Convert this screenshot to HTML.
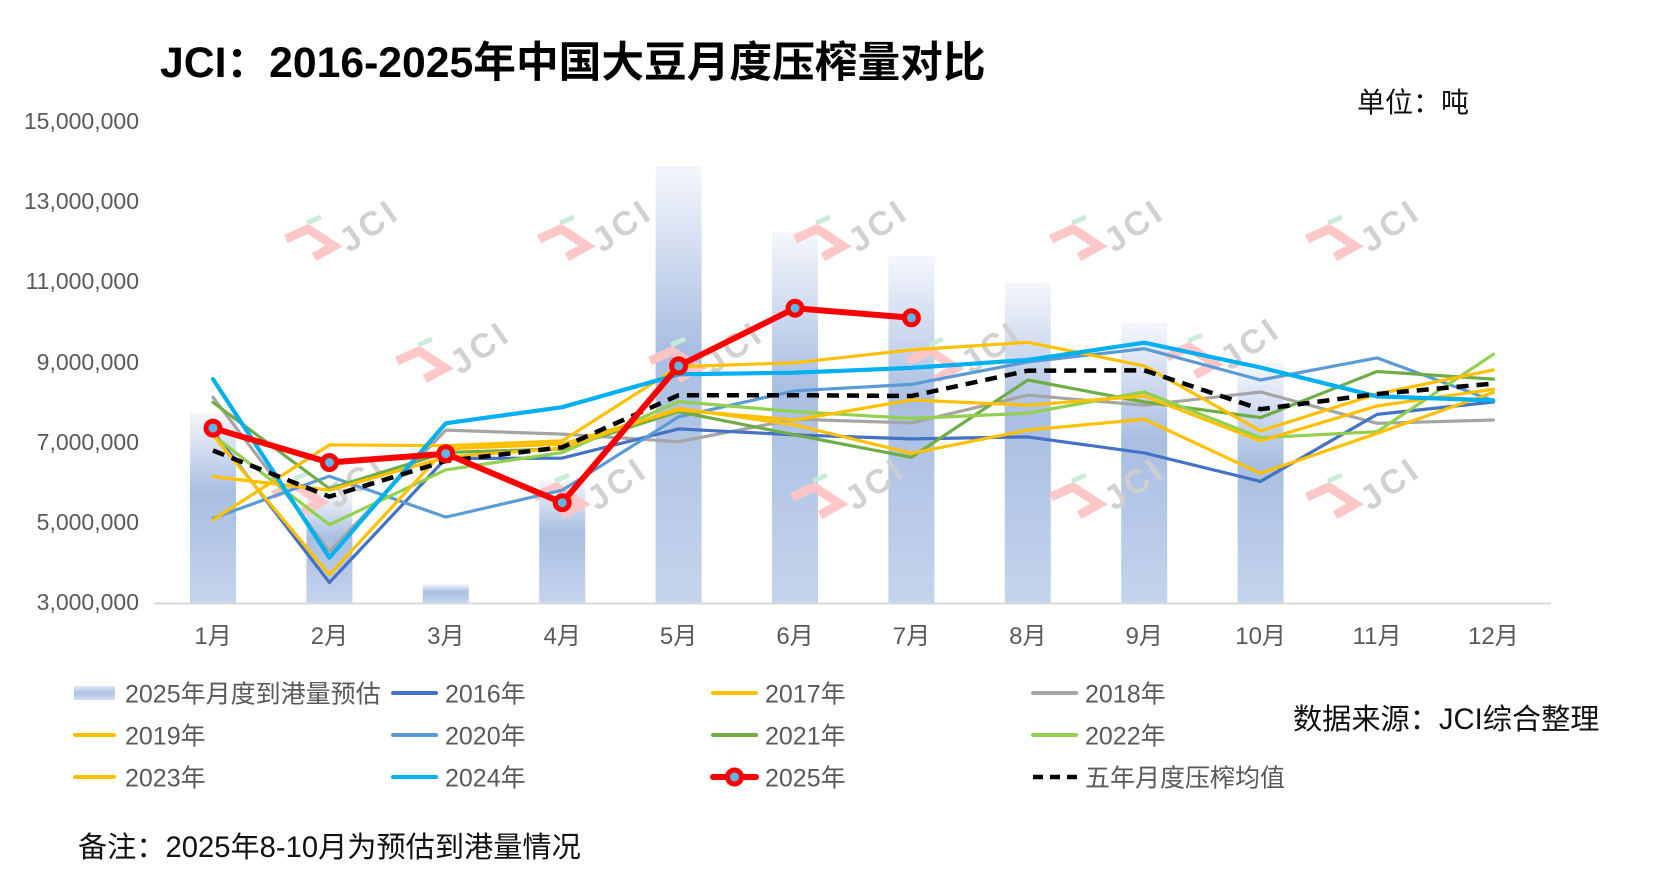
<!DOCTYPE html>
<html><head><meta charset="utf-8"><style>
html,body{margin:0;padding:0;background:#fff;}
svg{display:block;font-family:"Liberation Sans","Noto Sans CJK SC",sans-serif;}
</style></head><body>
<svg width="1654" height="894" viewBox="0 0 1654 894" xmlns="http://www.w3.org/2000/svg">
<defs>
<linearGradient id="bg" x1="0" y1="0" x2="0" y2="1">
<stop offset="0" stop-color="#f5f7fc"/>
<stop offset="0.42" stop-color="#a9bee2"/>
<stop offset="1" stop-color="#c5d4ed"/>
</linearGradient>
<linearGradient id="lg" x1="0" y1="0" x2="0" y2="1">
<stop offset="0" stop-color="#dfe7f5"/>
<stop offset="0.5" stop-color="#aec2e4"/>
<stop offset="1" stop-color="#d3def1"/>
</linearGradient>
</defs>
<rect width="1654" height="894" fill="#fff"/>

<!-- title -->
<text x="160" y="77" font-size="42.7" font-weight="bold" fill="#000">JCI：2016-2025年中国大豆月度压榨量对比</text>
<text x="1357" y="112" font-size="28" fill="#111">单位：吨</text>

<!-- y axis labels -->
<g font-size="23" fill="#595959" text-anchor="end">
<text x="139" y="129">15,000,000</text>
<text x="139" y="209">13,000,000</text>
<text x="139" y="289">11,000,000</text>
<text x="139" y="370">9,000,000</text>
<text x="139" y="450">7,000,000</text>
<text x="139" y="530">5,000,000</text>
<text x="139" y="610">3,000,000</text>
</g>

<!-- bars -->
<g fill="url(#bg)">
<rect x="190" y="413.2" width="46" height="189.8"/>
<rect x="306.4" y="492.2" width="46" height="110.8"/>
<rect x="422.8" y="584.1" width="46" height="18.9"/>
<rect x="539.2" y="480.6" width="46" height="122.4"/>
<rect x="655.6" y="165.8" width="46" height="437.2"/>
<rect x="772" y="232" width="46" height="371"/>
<rect x="888.4" y="256" width="46" height="347"/>
<rect x="1004.8" y="282.9" width="46" height="320.1"/>
<rect x="1121.2" y="322.6" width="46" height="280.4"/>
<rect x="1237.6" y="361.9" width="46" height="241.1"/>
</g>

<!-- axis line -->
<line x1="154" y1="603.5" x2="1551" y2="603.5" stroke="#d9d9d9" stroke-width="2"/>

<!-- watermarks -->
<g opacity="0.95">
<g transform="translate(343,227)"><path d="M-57,12 L-35,2 L-9,19 L-29,30" fill="none" stroke="#ffc4c4" stroke-width="9"/><line x1="-36" y1="-4" x2="-22" y2="-10" stroke="#c9ebd7" stroke-width="5"/><text transform="translate(26,-2) rotate(-35)" text-anchor="middle" font-size="34" font-weight="bold" fill="#cfcfcf" letter-spacing="4" y="12">JCI</text></g>
<g transform="translate(596,227)"><path d="M-57,12 L-35,2 L-9,19 L-29,30" fill="none" stroke="#ffc4c4" stroke-width="9"/><line x1="-36" y1="-4" x2="-22" y2="-10" stroke="#c9ebd7" stroke-width="5"/><text transform="translate(26,-2) rotate(-35)" text-anchor="middle" font-size="34" font-weight="bold" fill="#cfcfcf" letter-spacing="4" y="12">JCI</text></g>
<g transform="translate(852,227)"><path d="M-57,12 L-35,2 L-9,19 L-29,30" fill="none" stroke="#ffc4c4" stroke-width="9"/><line x1="-36" y1="-4" x2="-22" y2="-10" stroke="#c9ebd7" stroke-width="5"/><text transform="translate(26,-2) rotate(-35)" text-anchor="middle" font-size="34" font-weight="bold" fill="#cfcfcf" letter-spacing="4" y="12">JCI</text></g>
<g transform="translate(1108,227)"><path d="M-57,12 L-35,2 L-9,19 L-29,30" fill="none" stroke="#ffc4c4" stroke-width="9"/><line x1="-36" y1="-4" x2="-22" y2="-10" stroke="#c9ebd7" stroke-width="5"/><text transform="translate(26,-2) rotate(-35)" text-anchor="middle" font-size="34" font-weight="bold" fill="#cfcfcf" letter-spacing="4" y="12">JCI</text></g>
<g transform="translate(1364,227)"><path d="M-57,12 L-35,2 L-9,19 L-29,30" fill="none" stroke="#ffc4c4" stroke-width="9"/><line x1="-36" y1="-4" x2="-22" y2="-10" stroke="#c9ebd7" stroke-width="5"/><text transform="translate(26,-2) rotate(-35)" text-anchor="middle" font-size="34" font-weight="bold" fill="#cfcfcf" letter-spacing="4" y="12">JCI</text></g>

<g transform="translate(454,349)"><path d="M-57,12 L-35,2 L-9,19 L-29,30" fill="none" stroke="#ffc4c4" stroke-width="9"/><line x1="-36" y1="-4" x2="-22" y2="-10" stroke="#c9ebd7" stroke-width="5"/><text transform="translate(26,-2) rotate(-35)" text-anchor="middle" font-size="34" font-weight="bold" fill="#cfcfcf" letter-spacing="4" y="12">JCI</text></g>
<g transform="translate(707,349)"><path d="M-57,12 L-35,2 L-9,19 L-29,30" fill="none" stroke="#ffc4c4" stroke-width="9"/><line x1="-36" y1="-4" x2="-22" y2="-10" stroke="#c9ebd7" stroke-width="5"/><text transform="translate(26,-2) rotate(-35)" text-anchor="middle" font-size="34" font-weight="bold" fill="#cfcfcf" letter-spacing="4" y="12">JCI</text></g>
<g transform="translate(965,349)"><path d="M-57,12 L-35,2 L-9,19 L-29,30" fill="none" stroke="#ffc4c4" stroke-width="9"/><line x1="-36" y1="-4" x2="-22" y2="-10" stroke="#c9ebd7" stroke-width="5"/><text transform="translate(26,-2) rotate(-35)" text-anchor="middle" font-size="34" font-weight="bold" fill="#cfcfcf" letter-spacing="4" y="12">JCI</text></g>
<g transform="translate(1224,345)"><path d="M-57,12 L-35,2 L-9,19 L-29,30" fill="none" stroke="#ffc4c4" stroke-width="9"/><line x1="-36" y1="-4" x2="-22" y2="-10" stroke="#c9ebd7" stroke-width="5"/><text transform="translate(26,-2) rotate(-35)" text-anchor="middle" font-size="34" font-weight="bold" fill="#cfcfcf" letter-spacing="4" y="12">JCI</text></g>

<g transform="translate(330,483)"><path d="M-57,12 L-35,2 L-9,19 L-29,30" fill="none" stroke="#ffc4c4" stroke-width="9"/><line x1="-36" y1="-4" x2="-22" y2="-10" stroke="#c9ebd7" stroke-width="5"/><text transform="translate(26,-2) rotate(-35)" text-anchor="middle" font-size="34" font-weight="bold" fill="#cfcfcf" letter-spacing="4" y="12">JCI</text></g>
<g transform="translate(591,485)"><path d="M-57,12 L-35,2 L-9,19 L-29,30" fill="none" stroke="#ffc4c4" stroke-width="9"/><line x1="-36" y1="-4" x2="-22" y2="-10" stroke="#c9ebd7" stroke-width="5"/><text transform="translate(26,-2) rotate(-35)" text-anchor="middle" font-size="34" font-weight="bold" fill="#cfcfcf" letter-spacing="4" y="12">JCI</text></g>
<g transform="translate(849,485)"><path d="M-57,12 L-35,2 L-9,19 L-29,30" fill="none" stroke="#ffc4c4" stroke-width="9"/><line x1="-36" y1="-4" x2="-22" y2="-10" stroke="#c9ebd7" stroke-width="5"/><text transform="translate(26,-2) rotate(-35)" text-anchor="middle" font-size="34" font-weight="bold" fill="#cfcfcf" letter-spacing="4" y="12">JCI</text></g>
<g transform="translate(1108,485)"><path d="M-57,12 L-35,2 L-9,19 L-29,30" fill="none" stroke="#ffc4c4" stroke-width="9"/><line x1="-36" y1="-4" x2="-22" y2="-10" stroke="#c9ebd7" stroke-width="5"/><text transform="translate(26,-2) rotate(-35)" text-anchor="middle" font-size="34" font-weight="bold" fill="#cfcfcf" letter-spacing="4" y="12">JCI</text></g>
<g transform="translate(1364,485)"><path d="M-57,12 L-35,2 L-9,19 L-29,30" fill="none" stroke="#ffc4c4" stroke-width="9"/><line x1="-36" y1="-4" x2="-22" y2="-10" stroke="#c9ebd7" stroke-width="5"/><text transform="translate(26,-2) rotate(-35)" text-anchor="middle" font-size="34" font-weight="bold" fill="#cfcfcf" letter-spacing="4" y="12">JCI</text></g>
</g>

<!-- series -->
<g fill="none" stroke-linejoin="round" stroke-linecap="round" stroke-width="3.2">
<polyline stroke="#A5A5A5" points="213,397.2 329.4,551.2 445.8,430.1 562.2,434.1 678.6,441.7 795,419.2 911.4,422.9 1027.8,395.2 1144.2,405.2 1260.6,392.0 1377,423.3 1493.4,420.0"/>
<polyline stroke="#4472C4" points="213,431.3 329.4,582.5 445.8,458.5 562.2,458.1 678.6,428.9 795,434.9 911.4,438.9 1027.8,436.9 1144.2,452.9 1260.6,481.4 1377,414.4 1493.4,402.0"/>
<polyline stroke="#5B9BD5" points="213,518.3 329.4,476.2 445.8,517.1 562.2,490.2 678.6,416.8 795,390.8 911.4,384.4 1027.8,361.9 1144.2,348.7 1260.6,380.0 1377,357.9 1493.4,400.8"/>
<polyline stroke="#70AD47" points="213,402.4 329.4,488.6 445.8,452.5 562.2,448.9 678.6,411.6 795,434.9 911.4,457.3 1027.8,380.0 1144.2,402.0 1260.6,417.6 1377,371.5 1493.4,379.1"/>
<polyline stroke="#92D050" points="213,435.3 329.4,524.7 445.8,469.8 562.2,452.5 678.6,401.6 795,411.6 911.4,418.4 1027.8,413.2 1144.2,392.0 1260.6,437.7 1377,431.7 1493.4,354.3"/>
<polyline stroke="#FFC000" points="213,476.6 329.4,490.2 445.8,457.3 562.2,448.1 678.6,408.4 795,424.9 911.4,453.3 1027.8,430.1 1144.2,419.2 1260.6,473.4 1377,433.3 1493.4,392.4"/>
<polyline stroke="#FFC000" points="213,435.3 329.4,574.8 445.8,448.9 562.2,444.1 678.6,410.0 795,420.0 911.4,400.0 1027.8,405.2 1144.2,396.0 1260.6,440.9 1377,406.0 1493.4,389.2"/>
<polyline stroke="#FFC000" points="213,519.9 329.4,444.9 445.8,445.7 562.2,440.9 678.6,366.7 795,362.7 911.4,349.9 1027.8,342.3 1144.2,365.9 1260.6,430.9 1377,394.0 1493.4,369.9"/>
<polyline stroke="#00B0F0" stroke-width="4.2" points="213,379.1 329.4,557.6 445.8,423.3 562.2,407.2 678.6,374.3 795,372.7 911.4,367.9 1027.8,359.9 1144.2,342.7 1260.6,367.5 1377,396.4 1493.4,400.4"/>
<polyline stroke="#000" stroke-width="4.5" stroke-dasharray="12 8" stroke-linecap="butt" points="213,450.5 329.4,496.6 445.8,461.0 562.2,447.3 678.6,395.2 795,395.2 911.4,396.0 1027.8,370.7 1144.2,370.3 1260.6,409.2 1377,394.0 1493.4,383.6"/>
<polyline stroke="#FF0000" stroke-width="6" points="213,428.1 329.4,462.5 445.8,453.7 562.2,502.7 678.6,365.9 795,308.2 911.4,317.8"/>
</g>
<g fill="#5fb6e6" stroke="#FF0000" stroke-width="5">
<circle cx="213" cy="428.1" r="7"/>
<circle cx="329.4" cy="462.5" r="7"/>
<circle cx="445.8" cy="453.7" r="7"/>
<circle cx="562.2" cy="502.7" r="7"/>
<circle cx="678.6" cy="365.9" r="7"/>
<circle cx="795" cy="308.2" r="7"/>
<circle cx="911.4" cy="317.8" r="7"/>
</g>

<!-- x labels -->
<g font-size="24" fill="#595959" text-anchor="middle">
<text x="213" y="644">1月</text>
<text x="329.4" y="644">2月</text>
<text x="445.8" y="644">3月</text>
<text x="562.2" y="644">4月</text>
<text x="678.6" y="644">5月</text>
<text x="795" y="644">6月</text>
<text x="911.4" y="644">7月</text>
<text x="1027.8" y="644">8月</text>
<text x="1144.2" y="644">9月</text>
<text x="1260.6" y="644">10月</text>
<text x="1377" y="644">11月</text>
<text x="1493.4" y="644">12月</text>
</g>

<!-- legend -->
<g stroke-width="4" stroke-linecap="round" fill="none">
<rect x="74" y="686" width="41" height="14" fill="url(#lg)" stroke="none"/>
<line x1="393" y1="693" x2="436" y2="693" stroke="#4472C4"/>
<line x1="713" y1="693" x2="756" y2="693" stroke="#FFC000"/>
<line x1="1033" y1="693" x2="1076" y2="693" stroke="#A5A5A5"/>
<line x1="75" y1="735" x2="114" y2="735" stroke="#FFC000"/>
<line x1="393" y1="735" x2="436" y2="735" stroke="#5B9BD5"/>
<line x1="713" y1="735" x2="756" y2="735" stroke="#70AD47"/>
<line x1="1033" y1="735" x2="1076" y2="735" stroke="#92D050"/>
<line x1="75" y1="777" x2="114" y2="777" stroke="#FFC000"/>
<line x1="393" y1="777" x2="436" y2="777" stroke="#00B0F0"/>
<line x1="713" y1="777" x2="756" y2="777" stroke="#FF0000" stroke-width="6"/>
<circle cx="734.5" cy="777" r="7" fill="#5fb6e6" stroke="#FF0000" stroke-width="5"/>
<line x1="1033" y1="777" x2="1077" y2="777" stroke="#000" stroke-width="4.5" stroke-dasharray="10 7" stroke-linecap="butt"/>
</g>
<g font-size="25" fill="#595959">
<text x="125" y="702.5">2025年月度到港量预估</text>
<text x="445" y="702.5">2016年</text>
<text x="765" y="702.5">2017年</text>
<text x="1085" y="702.5">2018年</text>
<text x="125" y="744.5">2019年</text>
<text x="445" y="744.5">2020年</text>
<text x="765" y="744.5">2021年</text>
<text x="1085" y="744.5">2022年</text>
<text x="125" y="786.5">2023年</text>
<text x="445" y="786.5">2024年</text>
<text x="765" y="786.5">2025年</text>
<text x="1085" y="786.5">五年月度压榨均值</text>
</g>

<text x="1293" y="729" font-size="29.2" fill="#111">数据来源：JCI综合整理</text>
<text x="78" y="857" font-size="29.2" fill="#111">备注：2025年8-10月为预估到港量情况</text>
</svg>
</body></html>
